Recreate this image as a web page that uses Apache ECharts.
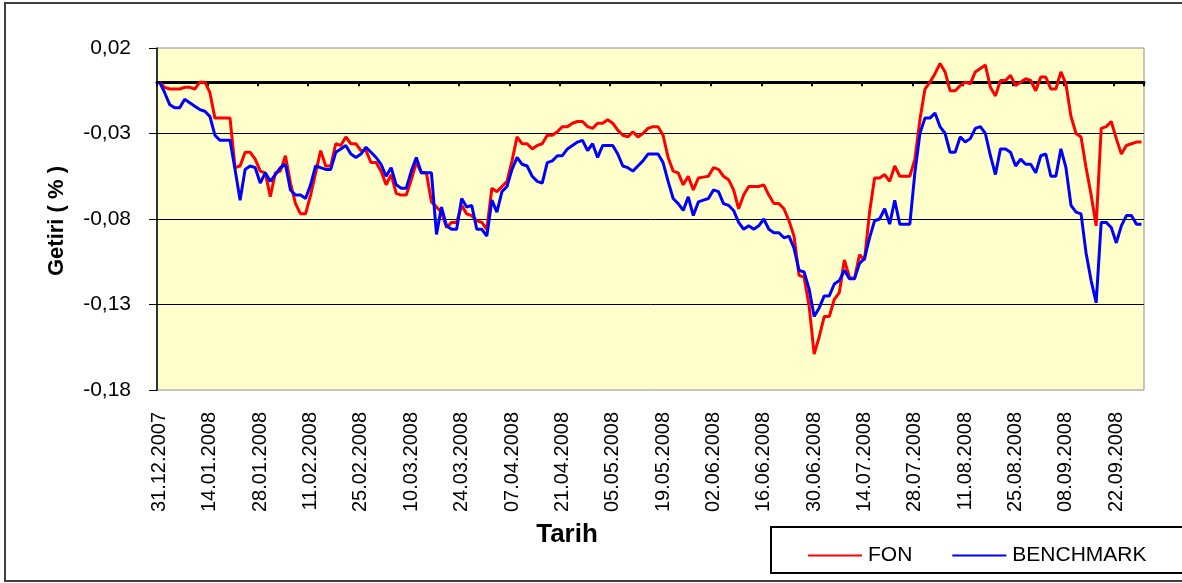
<!DOCTYPE html>
<html><head><meta charset="utf-8">
<script src="https://cdn.jsdelivr.net/npm/echarts@6/dist/echarts.min.js"></script>
<style>html,body{margin:0;padding:0;background:#fff}#c{width:1182px;height:583px}</style>
</head><body><div id="c"></div>
<script>
// Categories: business days starting 31.12.2007 (196 trading days, up to 29.09.2008)
const firstDay = [2007, 11, 31];
const dayCount = 196;
const dates = [];
(function(){
  const d = new Date(firstDay[0], firstDay[1], firstDay[2]);
  while (dates.length < dayCount) {
    const w = d.getDay();
    if (w !== 0 && w !== 6) {
      const dd = String(d.getDate()).padStart(2,'0');
      const mm = String(d.getMonth()+1).padStart(2,'0');
      dates.push(dd + '.' + mm + '.' + d.getFullYear());
    }
    d.setDate(d.getDate()+1);
  }
})();

const fon = [
 0,-0.003,-0.004,-0.004,-0.004,-0.003,-0.003,-0.004,0,0,
 -0.006,-0.021,-0.021,-0.021,-0.021,-0.050,-0.049,-0.041,-0.041,-0.045,
 -0.052,-0.053,-0.067,-0.053,-0.052,-0.043,-0.059,-0.071,-0.077,-0.077,
 -0.066,-0.053,-0.040,-0.049,-0.049,-0.036,-0.037,-0.032,-0.036,-0.036,
 -0.040,-0.040,-0.047,-0.047,-0.052,-0.060,-0.054,-0.065,-0.066,-0.066,
 -0.057,-0.047,-0.053,-0.053,-0.070,-0.073,-0.076,-0.085,-0.082,-0.082,
 -0.072,-0.077,-0.078,-0.081,-0.082,-0.086,-0.062,-0.064,-0.061,-0.058,
 -0.046,-0.032,-0.036,-0.036,-0.039,-0.037,-0.036,-0.031,-0.031,-0.029,
 -0.026,-0.026,-0.024,-0.023,-0.023,-0.026,-0.027,-0.024,-0.024,-0.022,
 -0.024,-0.028,-0.031,-0.032,-0.029,-0.032,-0.030,-0.027,-0.026,-0.026,
 -0.031,-0.044,-0.052,-0.053,-0.060,-0.055,-0.063,-0.056,-0.0555,-0.055,
 -0.050,-0.051,-0.055,-0.057,-0.063,-0.074,-0.066,-0.061,-0.061,-0.061,
 -0.060,-0.066,-0.071,-0.071,-0.074,-0.081,-0.090,-0.113,-0.114,-0.131,
 -0.159,-0.149,-0.137,-0.137,-0.127,-0.123,-0.104,-0.114,-0.115,-0.101,
 -0.104,-0.076,-0.056,-0.056,-0.054,-0.058,-0.049,-0.055,-0.055,-0.055,
 -0.045,-0.022,-0.004,0.000,0.005,0.011,0.006,-0.005,-0.005,-0.002,
 0.000,-0.001,0.006,0.008,0.010,-0.003,-0.008,0.001,0.001,0.004,
 -0.002,0.000,0.002,0.001,-0.005,0.003,0.003,-0.004,-0.004,0.006,
 -0.001,-0.020,-0.030,-0.032,-0.050,-0.066,-0.084,-0.027,-0.026,-0.023,
 -0.033,-0.042,-0.037,-0.036,-0.035,-0.035
];

const benchmark = [
 0,-0.006,-0.013,-0.015,-0.015,-0.010,-0.012,-0.014,-0.016,-0.017,
 -0.020,-0.031,-0.034,-0.034,-0.034,-0.051,-0.069,-0.051,-0.049,-0.050,
 -0.059,-0.053,-0.058,-0.054,-0.050,-0.048,-0.063,-0.066,-0.066,-0.068,
 -0.060,-0.049,-0.050,-0.051,-0.051,-0.041,-0.039,-0.037,-0.042,-0.044,
 -0.042,-0.038,-0.041,-0.044,-0.048,-0.055,-0.050,-0.060,-0.062,-0.062,
 -0.052,-0.044,-0.053,-0.053,-0.053,-0.089,-0.073,-0.084,-0.086,-0.086,
 -0.068,-0.073,-0.072,-0.086,-0.086,-0.090,-0.069,-0.076,-0.064,-0.061,
 -0.051,-0.044,-0.048,-0.049,-0.055,-0.058,-0.059,-0.047,-0.046,-0.043,
 -0.043,-0.039,-0.037,-0.035,-0.034,-0.040,-0.036,-0.044,-0.037,-0.037,
 -0.037,-0.042,-0.049,-0.050,-0.052,-0.049,-0.046,-0.042,-0.042,-0.042,
 -0.047,-0.058,-0.068,-0.071,-0.075,-0.067,-0.078,-0.070,-0.069,-0.068,
 -0.063,-0.064,-0.071,-0.072,-0.075,-0.082,-0.086,-0.084,-0.086,-0.084,
 -0.080,-0.086,-0.088,-0.088,-0.091,-0.090,-0.097,-0.110,-0.111,-0.121,
 -0.137,-0.132,-0.125,-0.125,-0.118,-0.116,-0.110,-0.115,-0.115,-0.106,
 -0.103,-0.091,-0.081,-0.080,-0.074,-0.083,-0.069,-0.083,-0.083,-0.083,
 -0.053,-0.030,-0.021,-0.021,-0.018,-0.026,-0.030,-0.041,-0.041,-0.032,
 -0.035,-0.033,-0.027,-0.026,-0.030,-0.043,-0.054,-0.039,-0.039,-0.041,
 -0.049,-0.045,-0.048,-0.048,-0.053,-0.043,-0.042,-0.055,-0.055,-0.039,
 -0.050,-0.072,-0.076,-0.077,-0.100,-0.116,-0.129,-0.082,-0.082,-0.085,
 -0.094,-0.084,-0.078,-0.078,-0.083,-0.083
];

const seriesNames = ['FON', 'BENCHMARK'];
const yMin = -0.18, yMax = 0.02, yStep = 0.05;

const FONT = '"Liberation Sans", Arial, sans-serif';
const chart = echarts.init(document.getElementById('c'), null, {renderer:'canvas'});
chart.setOption({
  animation: false,
  backgroundColor: '#ffffff',
  textStyle: {fontFamily: FONT},
  grid: {left:157, top:48, right:38, bottom:193, show:true, backgroundColor:'#FFFFCC', borderColor:'#8c8c8c', borderWidth:1},
  legend: {
    data: seriesNames, left: 803, top: 540, icon: 'rect', itemWidth: 54, itemHeight: 2, itemGap: 40,
    textStyle: {fontSize: 21, color: '#000', fontFamily: FONT, padding:[0,0,0,1]}
  },
  xAxis: [
    {type:'category', data: dates, boundaryGap: true,
     axisLine:{show:false, onZero:false}, axisTick:{show:false},
     axisLabel:{interval:9, rotate:90, margin:22, fontSize:20, color:'#000', fontFamily: FONT},
     splitLine:{show:false}},
    {type:'category', data: dates, boundaryGap: true, position:'bottom',
     axisLine:{show:true, onZero:true, lineStyle:{color:'#000', width:3}},
     axisTick:{show:true, interval:9, length:4, lineStyle:{color:'#000', width:2}},
     axisLabel:{show:false}, splitLine:{show:false}}
  ],
  yAxis: {
    type:'value', min:yMin, max:yMax, interval:yStep,
    axisLine:{show:true, lineStyle:{color:'#000', width:1.5}},
    axisTick:{show:true, length:8, lineStyle:{color:'#000'}},
    axisLabel:{margin:26, fontSize:21, color:'#000', fontFamily: FONT,
      formatter: v => v.toFixed(2).replace('.', ',')},
    splitLine:{show:true, showMinLine:false, showMaxLine:false, lineStyle:{color:'#000', width:1}}
  },
  graphic: [
    {type:'rect', z:-10, shape:{x:5, y:3, width:1200, height:578}, style:{fill:'none', stroke:'#404040', lineWidth:2}},
    {type:'rect', z:0, shape:{x:771, y:527, width:450, height:46}, style:{fill:'#fff', stroke:'#000', lineWidth:2}},
    {type:'text', x:567, y:535, style:{text:'Tarih', font:'bold 26px ' + FONT, fill:'#000', align:'center', verticalAlign:'middle'}},
    {type:'text', x:57, y:221, rotation: Math.PI/2, style:{text:'Getiri ( % )', font:'bold 22px ' + FONT, fill:'#000', align:'center', verticalAlign:'middle'}}
  ],
  series: [
    {name: seriesNames[0], type:'line', data: fon, xAxisIndex:0, symbol:'none', lineStyle:{color:'#FF0000', width:3}, itemStyle:{color:'#FF0000'}},
    {name: seriesNames[1], type:'line', data: benchmark, xAxisIndex:0, symbol:'none', lineStyle:{color:'#0000FF', width:3}, itemStyle:{color:'#0000FF'}}
  ]
});
</script></body></html>
